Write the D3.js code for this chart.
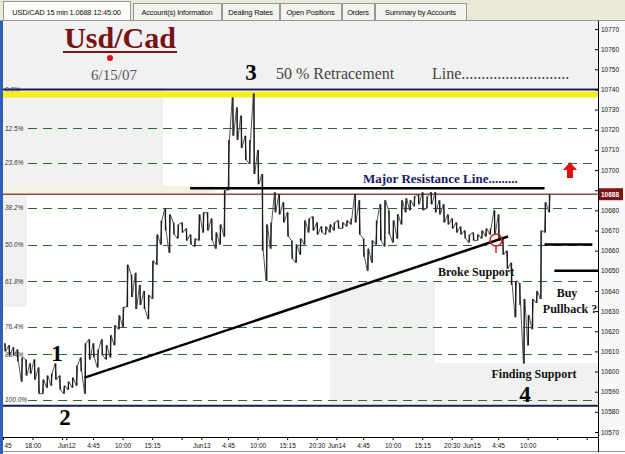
<!DOCTYPE html>
<html>
<head>
<meta charset="utf-8">
<script src="https://cdn.jsdelivr.net/npm/d3@7/dist/d3.min.js"></script>
<style>
body { margin: 0; background: #fff; }
svg { display: block; }
text { font-family: "Liberation Sans", Arial, sans-serif; }
.serif { font-family: "Liberation Serif", "Times New Roman", serif; }
</style>
</head>
<body>
<div id="chart"></div>
<script>
// ---- data (prices in pips, 1.0688 -> 10688) ----
const tabNames = ["USD/CAD 15 min 1.0688 12:45:00", "Account(s) Information", "Dealing Rates", "Open Positions", "Orders", "Summary by Accounts"];

// one sample every 3 bars of 15 min, first sample at bar -44 (Jun12 00:00 = bar 0)
const barStart = -44;
const barStep = 3;
const highs = [
  10614, 10613, 10612, 10611, 10607, 10606, 10604, 10606, 10602, 10596,
  10598, 10599, 10604, 10598, 10593, 10595, 10597, 10603, 10607, 10614,
  10616, 10614, 10611, 10616, 10613, 10618, 10623, 10628, 10632, 10653,
  10648, 10649, 10643, 10640, 10638, 10655, 10668, 10675, 10681, 10678,
  10674, 10673, 10674, 10671, 10668, 10666, 10678, 10679, 10679, 10676,
  10669, 10673, 10690, 10715, 10736, 10731, 10727, 10717, 10715, 10738,
  10710, 10698, 10673, 10674, 10689, 10688, 10684, 10679, 10665, 10663,
  10666, 10675, 10676, 10677, 10674, 10672, 10672, 10673, 10674, 10675,
  10674, 10675, 10676, 10688, 10685, 10666, 10661, 10665, 10675, 10683,
  10685, 10680, 10675, 10678, 10685, 10686, 10685, 10687, 10688, 10689,
  10687, 10689, 10689, 10685, 10683, 10678, 10676, 10674, 10672, 10670,
  10668, 10669, 10668, 10670, 10671, 10671, 10680, 10678, 10666, 10660,
  10654, 10645, 10644, 10636, 10628, 10636, 10640, 10670, 10684, 10688
];
const lows = [
  10610, 10608, 10608, 10605, 10595, 10598, 10599, 10596, 10589, 10589,
  10592, 10593, 10596, 10591, 10589, 10591, 10592, 10593, 10600, 10589,
  10606, 10607, 10602, 10608, 10606, 10607, 10613, 10621, 10622, 10632,
  10637, 10631, 10633, 10631, 10626, 10636, 10653, 10663, 10670, 10659,
  10668, 10666, 10669, 10665, 10663, 10662, 10665, 10669, 10670, 10665,
  10661, 10663, 10667, 10690, 10717, 10715, 10711, 10705, 10703, 10698,
  10693, 10660, 10645, 10661, 10679, 10678, 10674, 10667, 10656, 10654,
  10658, 10663, 10669, 10670, 10668, 10669, 10668, 10669, 10670, 10671,
  10671, 10672, 10673, 10674, 10668, 10657, 10650, 10654, 10663, 10665,
  10662, 10668, 10664, 10666, 10673, 10679, 10680, 10682, 10683, 10680,
  10681, 10683, 10679, 10678, 10674, 10673, 10671, 10669, 10668, 10666,
  10664, 10665, 10665, 10666, 10667, 10668, 10668, 10665, 10658, 10651,
  10643, 10627, 10633, 10604, 10613, 10621, 10634, 10636, 10669, 10679
];
const lastPrice = 10688;

const priceTicks = d3.range(10570, 10771, 10);
const xTickBars   = [-45, -24, -3, 0, 19, 40, 61, 82, 96, 115, 136, 157, 178, 192, 211, 232, 253, 274, 288, 307, 328, 349, 370];
const xTickLabels = ["45", "18:00", "", "Jun12", "4:45", "10:00", "15:15", "", "Jun13", "4:45", "10:00", "15:15", "20:30", "Jun14", "4:45", "10:00", "15:15", "20:30", "Jun15", "4:45", "10:00", "", ""];

const fibLevels = [0, 12.5, 23.6, 38.2, 50, 61.8, 76.4, 85.4, 100];
const fibHigh = 10740;
const fibLow = 10586;
const boxLow = 10583;

const resistance = { b0: 88, b1: 340, p: 10691 };
const trend = { b0: 13, p0: 10597, b1: 314, p1: 10667 };
const shortLines = [
  { b0: 340, b1: 374, p: 10663 },
  { b0: 347, b1: 378, p: 10650 }
];

// ---- layout ----
const W = 625, H = 454;
const plotL = 3, plotR = 598, plotT = 21, plotB = 437;

const svg = d3.select("#chart").append("svg").attr("width", W).attr("height", H);

const x = d3.scaleLinear().domain([-45, 378]).range([plotL, plotR]);
const y = d3.scaleLinear().domain([10570, 10770]).range([432, 29]);

// tab strip
svg.append("rect").attr("x", 0).attr("y", 0).attr("width", W).attr("height", 21).attr("fill", "#ece9d8");
const tabX = [[3, 130], [133, 221], [222, 279], [280, 341], [342, 374], [375, 466]];
tabNames.forEach((t, i) => {
  const [a, b] = tabX[i];
  svg.append("rect").attr("x", a + 0.5).attr("y", i === 0 ? 1.5 : 3.5)
    .attr("width", b - a).attr("height", i === 0 ? 19 : 17)
    .attr("fill", i === 0 ? "#fcfcfa" : "#f4f3ee").attr("stroke", "#919b9c");
  svg.append("text").attr("x", (a + b) / 2).attr("y", 15).attr("text-anchor", "middle")
    .style("font-size", "7.5px").style("letter-spacing", "-0.2px").attr("fill", "#111").text(t);
});

// plot background and light session shading
svg.append("rect").attr("x", plotL).attr("y", plotT).attr("width", W - plotL).attr("height", H - plotT).attr("fill", "#ffffff");
const shades = [[3, 21, 598, 88], [3, 88, 163, 186], [3, 186, 215, 195], [3, 195, 27, 307], [330, 282, 435, 404], [435, 363, 598, 404], [598, 21, 625, 437]];
shades.forEach(([a, b, c, d], i) => {
  svg.append("rect").attr("x", a).attr("y", b).attr("width", c - a).attr("height", d - b)
    .attr("fill", i === 2 ? "#f6f2e2" : (i === 6 ? "#f8f8f8" : "#f1f1f1"));
});

// fibonacci levels
const fibPrice = f => fibHigh - (fibHigh - fibLow) * f / 100;
svg.selectAll(".fib").data(fibLevels).join("line")
  .attr("x1", 28).attr("x2", plotR)
  .attr("y1", d => Math.round(y(fibPrice(d))) + 0.5).attr("y2", d => Math.round(y(fibPrice(d))) + 0.5)
  .attr("stroke", "#2e6a2e").attr("stroke-width", 1).attr("stroke-dasharray", "9 6");
svg.selectAll(".fibLabel").data(fibLevels).join("text")
  .attr("x", 5).attr("y", d => y(fibPrice(d)) + 2.5)
  .style("font-size", "6.5px").style("font-style", "italic").attr("fill", "#333")
  .text(d => d.toFixed(1) + "%");

// yellow highlight of the 0 % level and the range box edges
svg.append("rect").attr("x", plotL).attr("y", y(fibHigh) + 2).attr("width", plotR - plotL).attr("height", 6).attr("fill", "#f7ee1c");
[fibHigh, boxLow].forEach(p => {
  svg.append("line").attr("x1", plotL).attr("x2", plotR).attr("y1", y(p)).attr("y2", y(p))
    .attr("stroke", "#14204e").attr("stroke-width", 2);
});

// current price line
svg.append("line").attr("x1", plotL).attr("x2", plotR).attr("y1", y(lastPrice)).attr("y2", y(lastPrice))
  .attr("stroke", "#8e4a4a").attr("stroke-width", 1.3);

// price bars
const bars = highs.map((h, i) => ({ b: barStart + i * barStep, h, l: lows[i] }));
const pts = [];
bars.forEach((d, i) => {
  const nx = bars[i + 1];
  const goingDown = nx ? (nx.h + nx.l) < (d.h + d.l) : false;
  if (goingDown) { pts.push([x(d.b), y(d.h)], [x(d.b) + 1.4, y(d.l)]); }
  else { pts.push([x(d.b), y(d.l)], [x(d.b) + 1.4, y(d.h)]); }
});
svg.append("path").attr("d", d3.line()(pts)).attr("fill", "none").attr("stroke", "#555").attr("stroke-width", 1);
svg.selectAll(".bar").data(bars).join("line")
  .attr("x1", d => x(d.b) + 0.7).attr("x2", d => x(d.b) + 0.7)
  .attr("y1", d => y(d.h)).attr("y2", d => y(d.l))
  .attr("stroke", "#1a1a1a").attr("stroke-width", 1.3);

// drawn lines
svg.append("line").attr("x1", x(resistance.b0)).attr("x2", x(resistance.b1))
  .attr("y1", y(resistance.p)).attr("y2", y(resistance.p)).attr("stroke", "#000").attr("stroke-width", 2.5);
svg.append("line").attr("x1", x(trend.b0)).attr("x2", x(trend.b1))
  .attr("y1", y(trend.p0)).attr("y2", y(trend.p1)).attr("stroke", "#000").attr("stroke-width", 2.5);
shortLines.forEach(s => {
  svg.append("line").attr("x1", x(s.b0)).attr("x2", x(s.b1)).attr("y1", y(s.p)).attr("y2", y(s.p))
    .attr("stroke", "#000").attr("stroke-width", 2.5);
});

// red marks
svg.append("circle").attr("cx", 496).attr("cy", 240).attr("r", 6).attr("fill", "none").attr("stroke", "#d42020").attr("stroke-width", 1.5);
svg.append("line").attr("x1", 496).attr("x2", 496).attr("y1", 246).attr("y2", 253).attr("stroke", "#d42020").attr("stroke-width", 1.5);
svg.append("path").attr("d", "M570,162 L577,170 L573,170 L573,178 L567,178 L567,170 L563,170 Z").attr("fill", "#e01010");
svg.append("circle").attr("cx", 110).attr("cy", 58).attr("r", 3).attr("fill", "#e01010");

// annotations
const note = (tx, ty, txt, size, color, weight, anchor) => svg.append("text").attr("class", "serif")
  .attr("x", tx).attr("y", ty).attr("text-anchor", anchor || "start")
  .style("font-size", size + "px").style("font-weight", weight || "bold").attr("fill", color || "#000").text(txt);

note(120, 48, "Usd/Cad", 30, "#761414", "bold", "middle");
svg.append("line").attr("x1", 63).attr("x2", 177).attr("y1", 52).attr("y2", 52).attr("stroke", "#761414").attr("stroke-width", 2);
note(114, 80, "6/15/07", 15, "#555", "normal", "middle");
note(251, 80, "3", 23, "#000", "bold", "middle");
note(276, 79, "50 % Retracement", 16, "#444", "normal");
note(432, 79, "Line...........................", 16, "#444", "normal");
note(363, 183, "Major Resistance Line.........", 13, "#1a1a6a", "bold");
note(438, 276, "Broke Support", 12, "#111", "bold");
note(567, 297, "Buy", 12, "#111", "bold", "middle");
note(570, 313, "Pullback ?", 12, "#111", "bold", "middle");
note(534, 378, "Finding Support", 12, "#111", "bold", "middle");
note(525, 402, "4", 23, "#000", "bold", "middle");
note(57, 361, "1", 23, "#000", "bold", "middle");
note(65, 425, "2", 23, "#000", "bold", "middle");

// right price axis (the 10690 label sits under the last price tag)
const gy = svg.append("g").attr("transform", `translate(${plotR},0)`)
  .call(d3.axisRight(y).tickValues(priceTicks).tickSizeInner(-3).tickSizeOuter(0).tickPadding(3)
    .tickFormat(d => Math.abs(d - lastPrice) < 5 ? "" : d));
gy.select(".domain").remove();
gy.selectAll(".tick line").attr("stroke", "#000");
gy.selectAll("text").style("font-size", "6.5px").attr("fill", "#111").style("font-family", "'Liberation Sans', Arial, sans-serif");
svg.append("line").attr("x1", plotR + 0.5).attr("x2", plotR + 0.5).attr("y1", plotT).attr("y2", H - 2).attr("stroke", "#000");

// last price tag
svg.append("rect").attr("x", plotR + 1).attr("y", y(lastPrice) - 6).attr("width", 24).attr("height", 12).attr("fill", "#7c1414");
svg.append("text").attr("x", plotR + 3).attr("y", y(lastPrice) + 2.5).style("font-size", "6.5px").style("font-weight", "bold")
  .attr("fill", "#fff").text(lastPrice);

// bottom time axis
svg.append("rect").attr("x", plotL).attr("y", plotB).attr("width", W - plotL).attr("height", H - plotB).attr("fill", "#fff");
const gx = svg.append("g").attr("transform", `translate(0,${plotB})`)
  .call(d3.axisBottom(x).tickValues(xTickBars).tickSizeInner(3).tickSizeOuter(0).tickPadding(3)
    .tickFormat((d, i) => xTickLabels[i]));
gx.select(".domain").attr("stroke", "#000");
gx.selectAll(".tick line").attr("stroke", "#000");
gx.selectAll("text").style("font-size", "6.5px").attr("fill", "#111").style("font-family", "'Liberation Sans', Arial, sans-serif");
gx.select(".tick text").attr("text-anchor", "start").attr("dx", "1");
svg.append("line").attr("x1", plotL).attr("x2", W).attr("y1", H - 2.5).attr("y2", H - 2.5).attr("stroke", "#9a9a9a");
svg.append("line").attr("x1", plotR + 0.5).attr("x2", plotR + 0.5).attr("y1", plotB).attr("y2", H - 2).attr("stroke", "#000");

// window frame on the left
svg.append("rect").attr("x", 0).attr("y", 21).attr("width", 3).attr("height", H - 21).attr("fill", "#2f5fb8");
svg.append("line").attr("x1", 0).attr("x2", W).attr("y1", 20.5).attr("y2", 20.5).attr("stroke", "#919b9c");
</script>
</body>
</html>
